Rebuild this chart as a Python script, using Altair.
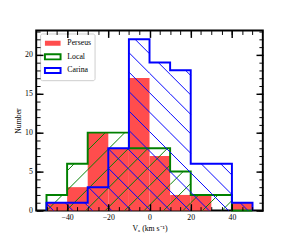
import math
import altair as alt
import pandas as pd

# ---- data ----
edges = [-50, -40, -30, -20, -10, 0, 10, 20, 30, 40, 50]
perseus = [1, 3, 10, 8, 17, 7, 2, 2, 0, 1]
local = [2, 6, 10, 10, 8, 8, 5, 2, 2, 0]
carina = [1, 1, 3, 8, 22, 19, 18, 6, 6, 1]
series = ["Perseus", "Local", "Carina"]
x_major = [-40, -20, 0, 20, 40]
x_minor = list(range(-50, 55, 5))
y_major = [0, 5, 10, 15, 20]
y_minor = list(range(0, 24))

# ---- layout / style ----
W, H = 233, 185
XD = [-55, 55]
YD = [0, 23.1]
RED, GREEN, BLUE = "#ff4d4d", "#008000", "#0000ff"
FONT = "Liberation Serif"

kx = W / (XD[1] - XD[0])
ky = H / (YD[1] - YD[0])


def hatch(counts, direction, spacing, phase):
    rows = []
    for i, h in enumerate(counts):
        if h <= 0:
            continue
        X0 = (edges[i] - XD[0]) * kx
        X1 = (edges[i + 1] - XD[0]) * kx
        Y0 = H - (h - YD[0]) * ky
        Y1 = H
        if direction == "/":
            cmin, cmax = X0 + Y0, X1 + Y1
        else:
            cmin, cmax = X0 - Y1, X1 - Y0
        k = math.ceil((cmin - phase) / spacing)
        while phase + k * spacing <= cmax:
            c = phase + k * spacing
            k += 1
            if direction == "/":
                Xa, Xb = max(X0, c - Y1), min(X1, c - Y0)
                Ya, Yb = c - Xa, c - Xb
            else:
                Xa, Xb = max(X0, c + Y0), min(X1, c + Y1)
                Ya, Yb = Xa - c, Xb - c
            if Xb - Xa > 1e-6:
                rows.append({
                    "x": Xa / kx + XD[0], "x2": Xb / kx + XD[0],
                    "y": YD[0] + (H - Ya) / ky, "y2": YD[0] + (H - Yb) / ky,
                })
    return pd.DataFrame(rows)


def outline(counts):
    pts = [(edges[0], 0)]
    for i, c in enumerate(counts):
        pts.append((edges[i], c))
        pts.append((edges[i + 1], c))
    pts.append((edges[-1], 0))
    return pd.DataFrame({"x": [p[0] for p in pts], "y": [p[1] for p in pts],
                         "o": list(range(len(pts)))})


pers_df = pd.DataFrame({"x": edges[:-1], "x2": edges[1:], "y": perseus,
                        "series": ["Perseus"] * len(perseus)})

xs = alt.Scale(domain=XD, nice=False, zero=False)
ys = alt.Scale(domain=YD, nice=False, zero=False)


def tick_axis(values, orient, offset, size, width):
    return alt.Axis(values=values, orient=orient, offset=offset, tickSize=size,
                    tickWidth=width, tickColor="black", labels=False,
                    domain=False, grid=False, title=None, zindex=1)


legend = alt.Legend(
    orient="none", legendX=4, legendY=3, title=None,
    symbolType="M-1.4,-0.45H1.4V0.45H-1.4Z", symbolSize=132,
    symbolStrokeWidth=2, symbolOffset=3, padding=3, rowPadding=0,
    labelOffset=8, labelFont=FONT, labelFontSize=8, labelColor="black",
    fillColor="white", strokeColor="#cccccc", cornerRadius=2,
)

pers = alt.Chart(pers_df).mark_rect().encode(
    x=alt.X("x:Q", scale=xs, axis=alt.Axis(
        values=x_major, orient="bottom", ticks=False, domain=False, grid=False,
        labelPadding=3, labelFont=FONT, labelFontSize=8, labelColor="black",
        title="Vₐ (km s⁻¹)", titleFont=FONT, titleFontSize=8,
        titleFontWeight="normal", titleColor="black", titleY=19,
        titleBaseline="middle")),
    x2="x2:Q",
    y=alt.Y("y:Q", scale=ys, axis=alt.Axis(
        values=y_major, orient="left", ticks=False, domain=False, grid=False,
        labelPadding=4, labelFont=FONT, labelFontSize=8, labelColor="black",
        title="Number", titleFont=FONT, titleFontSize=8,
        titleFontWeight="normal", titleColor="black", titleX=-18,
        titleBaseline="middle", titleAngle=270)),
    y2=alt.datum(0),
    fill=alt.Fill("series:N", scale=alt.Scale(
        domain=series, range=[RED, "transparent", "transparent"]), legend=legend),
    stroke=alt.Stroke("series:N", scale=alt.Scale(
        domain=series, range=["transparent", GREEN, BLUE]), legend=legend),
)

local_h = alt.Chart(hatch(local, "/", 20, 16)).mark_rule(
    color=GREEN, strokeWidth=1).encode(
    x=alt.X("x:Q", scale=xs, axis=tick_axis(x_major, "top", -H, 7, 1.5)),
    x2="x2:Q",
    y=alt.Y("y:Q", scale=ys, axis=tick_axis(y_major, "right", -W, 7, 1.5)),
    y2="y2:Q",
)

local_l = alt.Chart(outline(local)).mark_line(
    color=GREEN, strokeWidth=2, strokeJoin="miter").encode(
    x=alt.X("x:Q", scale=xs, axis=tick_axis(x_major, "bottom", -H, 7, 1.5)),
    y=alt.Y("y:Q", scale=ys, axis=tick_axis(y_major, "left", -W, 7, 1.5)),
    order="o:Q",
)

carina_h = alt.Chart(hatch(carina, "\\", 20, 12.7)).mark_rule(
    color=BLUE, strokeWidth=1).encode(
    x=alt.X("x:Q", scale=xs, axis=tick_axis(x_minor, "top", -H, 4, 1)),
    x2="x2:Q",
    y=alt.Y("y:Q", scale=ys, axis=tick_axis(y_minor, "right", -W, 4, 1)),
    y2="y2:Q",
)

carina_l = alt.Chart(outline(carina)).mark_line(
    color=BLUE, strokeWidth=2, strokeJoin="miter").encode(
    x=alt.X("x:Q", scale=xs, axis=tick_axis(x_minor, "bottom", -H, 4, 1)),
    y=alt.Y("y:Q", scale=ys, axis=tick_axis(y_minor, "left", -W, 4, 1)),
    order="o:Q",
)

chart = alt.layer(pers, local_h, local_l, carina_h, carina_l).resolve_axis(
    x="independent", y="independent"
).properties(
    width=W, height=H,
    padding={"left": 29, "top": 20, "right": 30, "bottom": 24},
    autosize=alt.AutoSizeParams(type="none"),
).configure_view(stroke="black", strokeWidth=2)

chart.save("out.html", embed_options={"renderer": "svg", "actions": False})
